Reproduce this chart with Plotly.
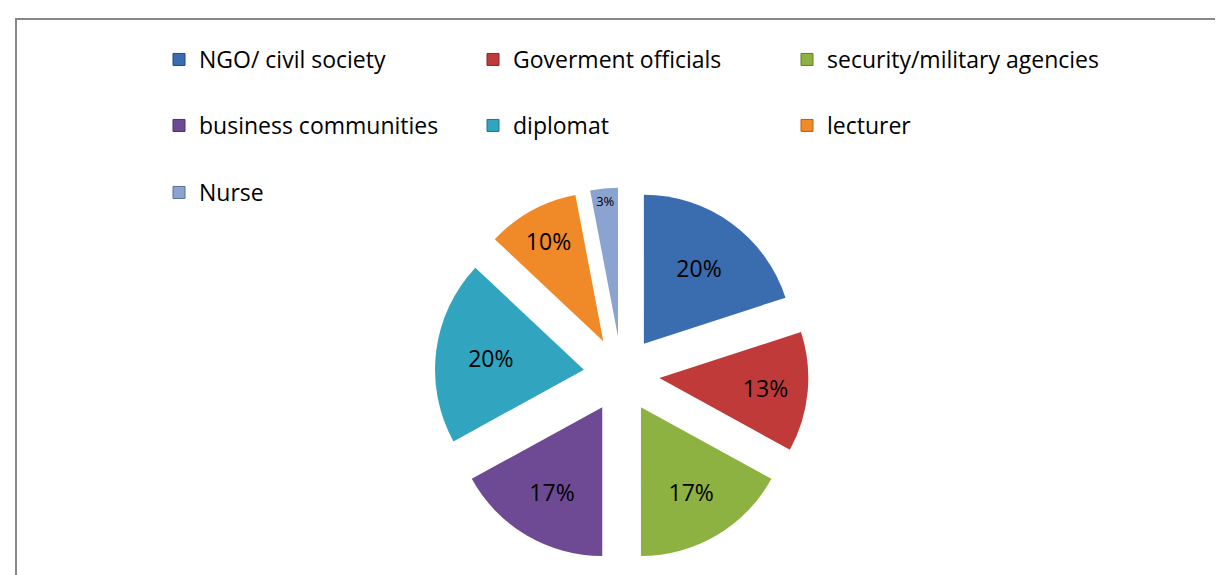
import plotly.graph_objects as go

# ---- data ----
categories = ["NGO/ civil society", "Goverment officials", "security/military agencies",
              "business communities", "diplomat", "lecturer", "Nurse"]
percent_values = [20, 13, 17, 17, 20, 10, 3]
slice_colors = ["#3A6CB0", "#C03A39", "#8DB241", "#6D4A93", "#31A5C0", "#F08927", "#8AA3D0"]
edge_colors = ["#24497F", "#8A2525", "#5F7F2A", "#4A3066", "#1F7488", "#B0611A", "#5A6F96"]

W, H = 1223, 575
FONT = "Open Sans"

fig = go.Figure()

fig.add_trace(go.Pie(
    labels=categories,
    values=percent_values,
    sort=False,
    direction="clockwise",
    rotation=0,
    pull=0.255,
    marker=dict(colors=slice_colors, line=dict(width=0)),
    texttemplate="%{value}%",
    textposition="inside",
    insidetextorientation="horizontal",
    textfont=dict(family=FONT, size=23, color="black"),
    domain=dict(x=[0.3488, 0.6546], y=[0.0377, 0.6877]),
    showlegend=False,
    hoverinfo="label+percent",
))

legend_names = ["legend", "legend2", "legend3"]
for i, (name, col, ec) in enumerate(zip(categories, slice_colors, edge_colors)):
    fig.add_trace(go.Scatter(
        x=[None], y=[None], mode="markers", name=name,
        marker=dict(symbol="square", size=12, color=col, line=dict(color=ec, width=1)),
        legend=legend_names[i // 3], showlegend=True, hoverinfo="skip",
    ))

row_y = [1 - 30 / H, 1 - 96 / H, 1 - 163 / H]
leg_common = dict(orientation="h", entrywidth=269, entrywidthmode="pixels",
                  x=151 / W, xanchor="left", yanchor="top",
                  font=dict(family=FONT, size=23, color="black"),
                  bgcolor="rgba(0,0,0,0)", itemclick=False, itemdoubleclick=False)

fig.update_layout(
    width=W, height=H,
    margin=dict(l=0, r=0, t=0, b=0),
    paper_bgcolor="white", plot_bgcolor="white",
    xaxis=dict(visible=False), yaxis=dict(visible=False),
    legend=dict(y=row_y[0], **leg_common),
    legend2=dict(y=row_y[1], **leg_common),
    legend3=dict(y=row_y[2], **leg_common),
    shapes=[dict(type="rect", xref="paper", yref="paper",
                 x0=8 / W, x1=1.02, y0=-0.02, y1=1 - 11 / H,
                 line=dict(color="#878787", width=2))],
)

fig.write_html("out.html")
